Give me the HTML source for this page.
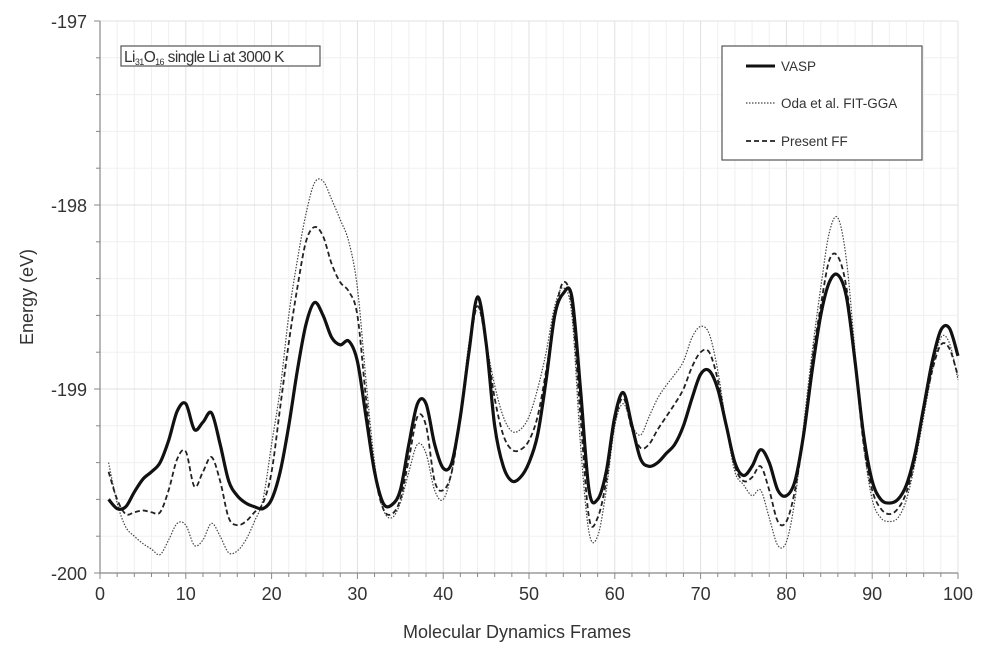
<!DOCTYPE html>
<html><head><meta charset="utf-8"><style>
body{margin:0;background:#fff;font-family:"Liberation Sans",sans-serif;}
svg text{font-family:"Liberation Sans",sans-serif;fill:#333;}
</style></head><body>
<svg id="chart" width="982" height="653" viewBox="0 0 982 653" xmlns="http://www.w3.org/2000/svg">
<g id="grid"></g>
<g id="axes"></g>
<g id="series"></g>
<text x="517" y="638" font-size="18" text-anchor="middle">Molecular Dynamics Frames</text>
<text transform="translate(33,297) rotate(-90)" font-size="18" text-anchor="middle">Energy (eV)</text>
<g>
<rect x="121" y="46" width="199" height="20" fill="#fff" stroke="#555" stroke-width="1.2"/>
<text x="124" y="62" font-size="15.5" letter-spacing="-0.6">Li<tspan font-size="9" dy="3">31</tspan><tspan dy="-3">O</tspan><tspan font-size="9" dy="3">16</tspan><tspan dy="-3"> single Li at 3000 K</tspan></text>
</g>
<g>
<rect x="722" y="46" width="200" height="114" fill="#fff" stroke="#555" stroke-width="1.2"/>
<g><line x1="746" y1="66" x2="775" y2="66" stroke="#111" stroke-width="3"/><text x="781" y="71" font-size="13.5">VASP</text></g>
<g><line x1="746" y1="103" x2="775" y2="103" stroke="#444" stroke-width="1.2" stroke-dasharray="1.5,1.5"/><text x="781" y="108" font-size="13.5">Oda et al. FIT-GGA</text></g>
<g><line x1="746" y1="141" x2="775" y2="141" stroke="#222" stroke-width="1.8" stroke-dasharray="5,3"/><text x="781" y="146" font-size="13.5">Present FF</text></g>
</g>
</svg>
<script>
const frames=[1,2,3,4,5,6,7,8,9,10,11,12,13,14,15,16,17,18,19,20,21,22,23,24,25,26,27,28,29,30,31,32,33,34,35,36,37,38,39,40,41,42,43,44,45,46,47,48,49,50,51,52,53,54,55,56,57,58,59,60,61,62,63,64,65,66,67,68,69,70,71,72,73,74,75,76,77,78,79,80,81,82,83,84,85,86,87,88,89,90,91,92,93,94,95,96,97,98,99,100];
const vasp=[-199.6,-199.65,-199.64,-199.56,-199.49,-199.45,-199.4,-199.28,-199.12,-199.08,-199.22,-199.18,-199.13,-199.3,-199.5,-199.58,-199.62,-199.64,-199.65,-199.6,-199.45,-199.2,-198.9,-198.65,-198.53,-198.6,-198.72,-198.76,-198.74,-198.85,-199.15,-199.45,-199.62,-199.63,-199.55,-199.3,-199.08,-199.08,-199.3,-199.43,-199.4,-199.15,-198.8,-198.5,-198.75,-199.2,-199.42,-199.5,-199.48,-199.4,-199.25,-198.95,-198.6,-198.48,-198.5,-199.0,-199.55,-199.6,-199.45,-199.15,-199.02,-199.2,-199.38,-199.42,-199.4,-199.35,-199.3,-199.2,-199.05,-198.92,-198.9,-199.0,-199.2,-199.4,-199.47,-199.42,-199.33,-199.4,-199.55,-199.58,-199.5,-199.25,-198.9,-198.6,-198.42,-198.38,-198.5,-198.85,-199.25,-199.5,-199.6,-199.62,-199.6,-199.52,-199.35,-199.1,-198.85,-198.68,-198.67,-198.82];
const oda=[-199.4,-199.62,-199.75,-199.8,-199.84,-199.87,-199.9,-199.82,-199.73,-199.74,-199.85,-199.82,-199.73,-199.8,-199.89,-199.88,-199.82,-199.72,-199.6,-199.3,-199.0,-198.6,-198.3,-198.05,-197.88,-197.87,-197.97,-198.08,-198.2,-198.45,-198.95,-199.4,-199.65,-199.7,-199.62,-199.45,-199.3,-199.35,-199.55,-199.6,-199.45,-199.15,-198.75,-198.55,-198.75,-198.98,-199.15,-199.23,-199.22,-199.15,-199.0,-198.8,-198.55,-198.45,-198.6,-199.3,-199.78,-199.8,-199.55,-199.2,-199.08,-199.2,-199.25,-199.15,-199.05,-198.98,-198.92,-198.85,-198.72,-198.66,-198.7,-198.9,-199.2,-199.45,-199.52,-199.58,-199.55,-199.7,-199.85,-199.83,-199.6,-199.2,-198.8,-198.45,-198.15,-198.07,-198.3,-198.8,-199.3,-199.6,-199.7,-199.72,-199.7,-199.6,-199.4,-199.15,-198.9,-198.72,-198.75,-198.95];
const present=[-199.45,-199.6,-199.68,-199.67,-199.66,-199.67,-199.67,-199.55,-199.38,-199.34,-199.53,-199.45,-199.37,-199.5,-199.7,-199.74,-199.72,-199.67,-199.62,-199.45,-199.1,-198.75,-198.45,-198.2,-198.12,-198.17,-198.32,-198.42,-198.47,-198.6,-199.05,-199.45,-199.65,-199.68,-199.6,-199.38,-199.15,-199.2,-199.5,-199.55,-199.45,-199.15,-198.8,-198.55,-198.75,-199.05,-199.25,-199.33,-199.33,-199.28,-199.15,-198.9,-198.6,-198.42,-198.55,-199.15,-199.7,-199.7,-199.5,-199.18,-199.05,-199.22,-199.32,-199.3,-199.22,-199.15,-199.08,-199.0,-198.88,-198.8,-198.8,-198.95,-199.2,-199.42,-199.5,-199.48,-199.42,-199.55,-199.72,-199.72,-199.55,-199.25,-198.85,-198.55,-198.3,-198.28,-198.45,-198.85,-199.3,-199.55,-199.65,-199.68,-199.65,-199.56,-199.38,-199.12,-198.9,-198.76,-198.78,-198.93];
const xTicks=[0,10,20,30,40,50,60,70,80,90,100];
const yTicks=[-197,-198,-199,-200];
const X0=100,X1=958,Y0=21,Y1=573;
const xs=v=>X0+(v-0)/100*(X1-X0);
const ys=v=>Y0+(-197-v)/3*(Y1-Y0);
const NS="http://www.w3.org/2000/svg";
function mk(tag,attrs,parent){const e=document.createElementNS(NS,tag);for(const k in attrs)e.setAttribute(k,attrs[k]);parent.appendChild(e);return e;}
const grid=document.getElementById('grid'),axes=document.getElementById('axes'),series=document.getElementById('series');
for(let v=0;v<=100;v+=2){const major=v%10===0;const l=mk('line',{x1:xs(v),x2:xs(v),y1:Y0,y2:Y1,stroke:major?'#e0e0e0':'#f0f0f0','stroke-width':1},grid);


const t=mk('line',{x1:xs(v),x2:xs(v),y1:Y1,y2:Y1+(major?6:4),stroke:'#888'},axes);

}
for(let i=0;i<=15;i++){const v=-197-i*0.2;const major=i%5===0;const l=mk('line',{x1:X0,x2:X1,y1:ys(v),y2:ys(v),stroke:major?'#e0e0e0':'#f0f0f0','stroke-width':1},grid);


const t=mk('line',{x1:X0-(major?6:4),x2:X0,y1:ys(v),y2:ys(v),stroke:'#888'},axes);

}
const ax=mk('line',{x1:X0,x2:X1,y1:Y1,y2:Y1,stroke:'#888','stroke-width':1.2},axes);


const ay=mk('line',{x1:X0,x2:X0,y1:Y0,y2:Y1,stroke:'#888','stroke-width':1.2},axes);


xTicks.forEach(v=>{const t=mk('text',{x:xs(v),y:Y1+27,'font-size':18,'text-anchor':'middle'},axes);t.textContent=v;

});
yTicks.forEach(v=>{const t=mk('text',{x:X0-13,y:ys(v)+7,'font-size':18,'text-anchor':'end'},axes);t.textContent=v;

});
function path(vals){const p=frames.map((f,i)=>[xs(f),ys(vals[i])]);let d='M'+p[0][0]+','+p[0][1];
for(let i=0;i<p.length-1;i++){const a=p[Math.max(0,i-1)],b=p[i],c=p[i+1],e=p[Math.min(p.length-1,i+2)];
d+=' C'+(b[0]+(c[0]-a[0])/6)+','+(b[1]+(c[1]-a[1])/6)+' '+(c[0]-(e[0]-b[0])/6)+','+(c[1]-(e[1]-b[1])/6)+' '+c[0]+','+c[1];}return d;}
const s1=mk('path',{d:path(oda),fill:'none',stroke:'#444','stroke-width':1.2,'stroke-dasharray':'1.5,1.5'},series);


const s2=mk('path',{d:path(present),fill:'none',stroke:'#222','stroke-width':1.8,'stroke-dasharray':'5,3'},series);


const s3=mk('path',{d:path(vasp),fill:'none',stroke:'#111','stroke-width':3.2,'stroke-linejoin':'round'},series);


</script>
</body></html>
